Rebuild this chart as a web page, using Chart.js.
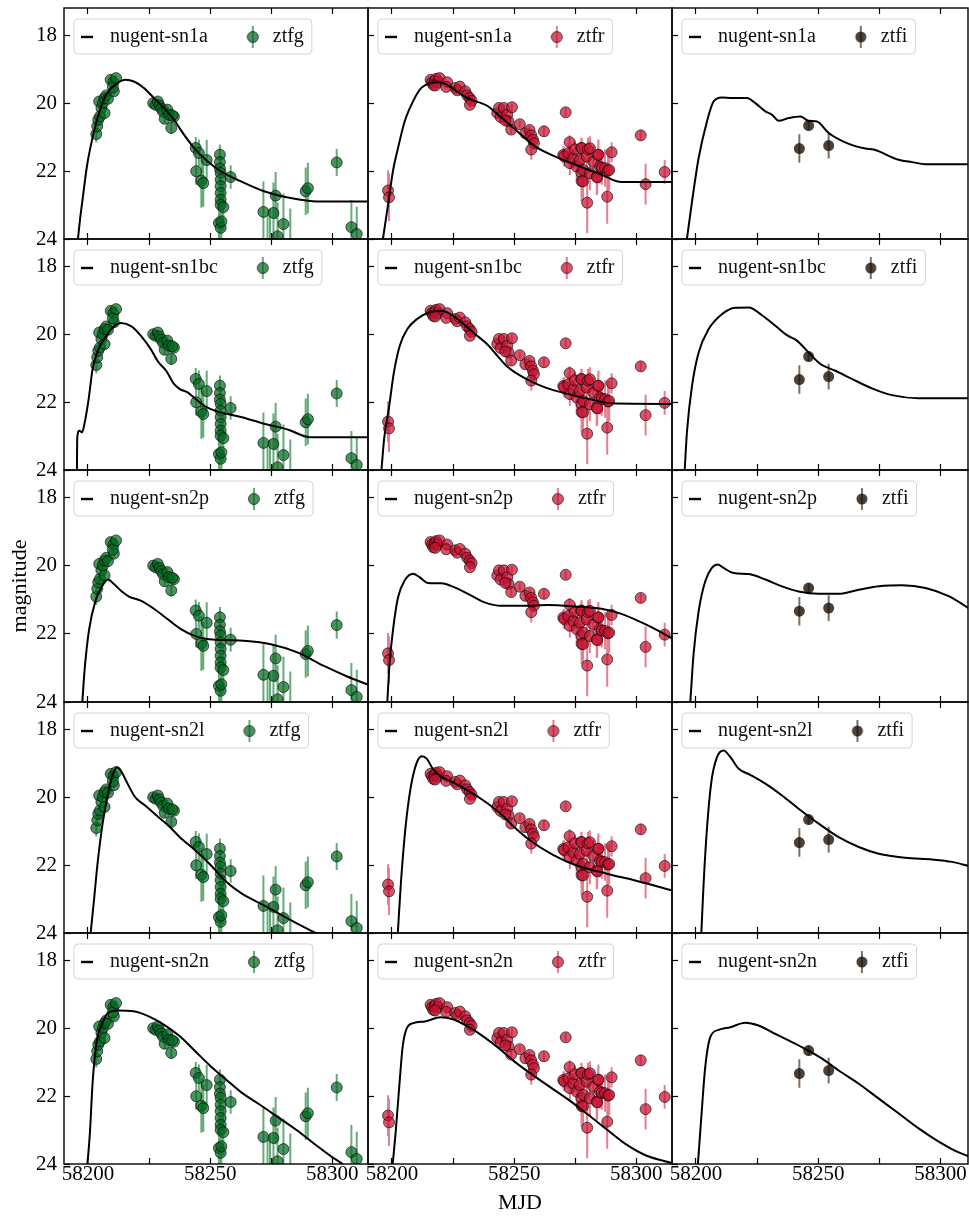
<!DOCTYPE html>
<html lang="en">
<head>
<meta charset="UTF-8">
<title>ZTF light curves vs nugent templates</title>
<script src="https://cdn.jsdelivr.net/npm/chart.js"></script>
<style>
  html, body { margin: 0; padding: 0; background: #fff; overflow: hidden; }
  #wrap { position: relative; width: 969px; height: 1216px; }
  #wrap canvas { position: absolute; }
</style>
</head>
<body>
<div id="wrap"></div>
<script>
// ---------- observed photometry ----------
const gMjd = [58203.4, 58203.8, 58204.2, 58204.6, 58204.9, 58205.5, 58206.1, 58206.8, 58206.8, 58207.5, 58208.2, 58209.3, 58210.4, 58210.6, 58210.2, 58211.5,
  58226.7, 58227.7, 58228.6, 58229.3, 58230.0, 58230.8, 58231.4, 58232.5, 58233.2, 58234.1, 58235.2, 58234.5,
  58244.1, 58244.3, 58245.4, 58246.4, 58247.2, 58248.6,
  58254.0, 58254.0, 58254.0, 58254.3, 58254.3, 58254.3, 58254.3, 58254.3, 58254.3, 58255.4, 58253.6, 58254.3, 58254.6, 58258.4,
  58271.8, 58273.5, 58274.5, 58275.9, 58276.8, 58277.6, 58280.0, 58282.8, 58289.1, 58290.0, 58301.8, 58307.8, 58310.0];
const gMag = [20.90, 20.67, 20.48, 19.94, 20.38, 20.13, 19.99, 20.28, 19.84, 19.76, 19.86, 19.30, 19.37, 19.64, 19.52, 19.25,
  19.99, 20.04, 19.94, 20.06, 20.15, 20.25, 20.45, 20.18, 20.33, 20.72, 20.39, 20.35,
  21.31, 22.00, 21.46, 22.28, 22.35, 21.67,
  21.51, 21.73, 21.92, 22.05, 22.25, 22.44, 22.64, 22.84, 22.99, 23.06, 23.53, 23.67, 23.48, 22.17,
  23.20, 24.30, 24.20, 23.23, 22.72, 23.92, 23.56, 24.40, 22.59, 22.50, 21.74, 23.65, 23.85];
const gErr = [0.25, 0.2, 0.18, 0.12, 0.15, 0.12, 0.12, 0.15, 0.1, 0.1, 0.12, 0.08, 0.08, 0.12, 0.1, 0.08,
  0.08, 0.08, 0.08, 0.1, 0.1, 0.12, 0.15, 0.12, 0.12, 0.18, 0.12, 0.12,
  0.32, 0.4, 0.4, 0.8, 0.7, 0.6,
  0.3, 0.4, 0.5, 0.5, 0.6, 0.7, 0.7, 0.8, 0.8, 0.7, 0.9, 0.9, 0.9, 0.35,
  0.9, 1.0, 1.1, 0.9, 0.7, 1.0, 0.9, 1.3, 0.7, 0.75, 0.4, 0.8, 0.8];

const rMjd = [58198.4, 58198.8,
  58215.8, 58216.4, 58216.9, 58217.5, 58218.1, 58218.8, 58219.5, 58217.7, 58222.6, 58222.2, 58225.9, 58226.7, 58227.8,
  58230.0, 58230.8, 58231.8, 58232.6, 58231.9,
  58243.1, 58243.8, 58244.5, 58245.8, 58247.2, 58247.7, 58249.1, 58248.8, 58246.4, 58252.3,
  58254.6, 58256.3, 58257.0, 58257.7, 58258.1, 58257.0, 58262.2, 58271.1, 58272.7,
  58270.1, 58270.5, 58272.2, 58272.8, 58274.2, 58274.9, 58275.6, 58276.9, 58277.5, 58277.6, 58277.5, 58277.6, 58278.2,
  58278.3, 58279.7, 58279.9, 58280.2, 58281.0, 58281.0, 58282.4, 58283.8, 58284.0, 58284.4, 58284.5, 58285.1, 58285.9,
  58287.2, 58288.1, 58288.4, 58288.9, 58289.9,
  58301.8, 58303.8, 58311.6];
const rMag = [22.57, 22.77,
  19.30, 19.37, 19.45, 19.33, 19.27, 19.37, 19.25, 19.47, 19.37, 19.51, 19.54, 19.61, 19.50,
  19.64, 19.76, 19.84, 19.92, 20.04,
  20.28, 20.13, 20.40, 20.13, 20.33, 20.53, 20.11, 20.77, 20.50, 20.61,
  20.88, 20.78, 20.94, 21.07, 21.17, 21.36, 20.82, 20.26, 21.14,
  21.52, 21.56, 21.47, 21.76, 21.62, 21.35, 21.86, 21.67, 21.31, 21.32, 22.05, 22.29, 22.30,
  21.96, 21.57, 22.93, 21.36, 21.32, 22.06, 21.72, 22.16, 22.18, 21.52, 21.51, 21.86, 21.90,
  21.91, 22.75, 21.98, 21.96, 21.44,
  20.94, 22.38, 22.02];
const rErr = [0.6, 0.7,
  0.05, 0.05, 0.05, 0.05, 0.05, 0.05, 0.05, 0.05, 0.05, 0.05, 0.05, 0.05, 0.05,
  0.06, 0.06, 0.06, 0.07, 0.07,
  0.1, 0.1, 0.1, 0.1, 0.1, 0.1, 0.1, 0.12, 0.1, 0.1,
  0.15, 0.12, 0.15, 0.15, 0.2, 0.3, 0.15, 0.12, 0.2,
  0.25, 0.3, 0.3, 0.35, 0.3, 0.25, 0.4, 0.35, 0.3, 0.3, 0.5, 0.6, 0.55,
  0.45, 0.4, 0.9, 0.35, 0.35, 0.5, 0.45, 0.55, 0.5, 0.4, 0.45, 0.5, 0.5,
  0.55, 0.8, 0.6, 0.6, 0.3,
  0.15, 0.6, 0.35];

const iMjd = [58242.3, 58246.1, 58254.3];
const iMag = [21.33, 20.65, 21.24];
const iErr = [0.42, 0.15, 0.38];

// ---------- template curves (MJD, mag) ----------
const sn1a_g_t = [58195.9, 58196.8, 58197.7, 58199.7, 58202.5, 58205.2, 58207.9, 58212.0, 58215.4, 58218.8, 58222.9, 58227.0, 58231.1, 58235.2, 58239.3, 58243.4, 58248.8, 58254.3, 58261.1, 58272.0, 58282.9, 58293.9, 58315];
const sn1a_g_m = [24.0, 23.4, 22.89, 21.8, 20.82, 20.13, 19.69, 19.4, 19.3, 19.35, 19.54, 19.84, 20.13, 20.48, 20.92, 21.31, 21.7, 22.0, 22.25, 22.59, 22.79, 22.89, 22.89];
const sn1a_r_t = [58196.3, 58198.4, 58200.4, 58202.5, 58205.2, 58208.6, 58212.0, 58215.4, 58219.5, 58223.6, 58228.4, 58232.5, 58236.6, 58239.3, 58243.4, 58247.5, 58252.9, 58258.4, 58266.6, 58274.8, 58285.7, 58293.9, 58315];
const sn1a_r_m = [24.0, 22.99, 22.0, 21.31, 20.53, 19.94, 19.54, 19.4, 19.37, 19.49, 19.74, 19.89, 19.99, 20.08, 20.33, 20.58, 20.92, 21.26, 21.56, 21.8, 22.1, 22.32, 22.32];
const sn1a_i_t = [58196.3, 58198.4, 58201.1, 58204.5, 58207.2, 58210.6, 58214.7, 58220.9, 58224.3, 58228.4, 58231.1, 58233.8, 58237.9, 58242.7, 58246.1, 58249.5, 58254.3, 58261.8, 58269.3, 58272.7, 58282.9, 58288.4, 58293.9, 58312];
const sn1a_i_m = [24.0, 22.89, 21.61, 20.53, 19.94, 19.82, 19.84, 19.84, 19.99, 20.23, 20.33, 20.51, 20.43, 20.38, 20.51, 20.53, 20.87, 21.17, 21.33, 21.36, 21.66, 21.73, 21.79, 21.79];

const sn1bc_g_t = [58195.5, 58195.6, 58196.4, 58197.6, 58198.7, 58200.3, 58201.9, 58204.3, 58207.5, 58210.6, 58213.5, 58217.8, 58221.7, 58225.7, 58228.9, 58232.0, 58235.2, 58237.6, 58240.8, 58244.0, 58248.7, 58253.4, 58263.0, 58272.5, 58282.0, 58290.7, 58315];
const sn1bc_g_m = [24.0, 23.08, 22.84, 22.89, 22.59, 21.9, 21.02, 20.43, 20.04, 19.76, 19.66, 19.76, 20.04, 20.43, 20.82, 21.07, 21.46, 21.61, 21.71, 21.9, 22.15, 22.28, 22.44, 22.64, 22.81, 23.03, 23.03];
const sn1bc_r_t = [58195.7, 58196.8, 58198.9, 58200.8, 58203.2, 58206.3, 58210.3, 58215.1, 58220.6, 58224.6, 58229.3, 58234.1, 58238.9, 58242.0, 58246.8, 58251.5, 58256.3, 58262.6, 58272.2, 58281.7, 58289.6, 58315];
const sn1bc_r_m = [24.0, 23.08, 22.1, 21.12, 20.33, 19.84, 19.54, 19.35, 19.3, 19.43, 19.69, 19.99, 20.28, 20.53, 20.92, 21.17, 21.36, 21.56, 21.76, 21.92, 22.03, 22.05];
const sn1bc_i_t = [58195.4, 58196.3, 58198.4, 58201.1, 58205.2, 58210.6, 58216.1, 58221.6, 58227.0, 58232.5, 58237.2, 58241.3, 58246.1, 58250.9, 58257.0, 58263.8, 58272.0, 58280.2, 58291.1, 58312];
const sn1bc_i_m = [24.0, 22.89, 21.51, 20.53, 19.84, 19.4, 19.21, 19.2, 19.43, 19.74, 20.02, 20.18, 20.53, 20.87, 21.07, 21.31, 21.59, 21.79, 21.88, 21.88];

const sn2p_g_t = [58197.7, 58198.6, 58200.4, 58203.1, 58205.9, 58208.2, 58210.6, 58213.4, 58216.8, 58221.6, 58227.0, 58232.5, 58237.9, 58243.4, 58248.8, 58255.7, 58263.8, 58274.8, 58285.7, 58296.6, 58306.1, 58315];
const sn2p_g_m = [24.0, 23.08, 21.9, 21.02, 20.58, 20.4, 20.53, 20.72, 20.9, 21.02, 21.26, 21.56, 21.85, 22.05, 22.15, 22.18, 22.2, 22.3, 22.54, 22.94, 23.25, 23.5];
const sn2p_r_t = [58198.1, 58199.0, 58200.4, 58202.5, 58205.2, 58208.6, 58211.3, 58214.7, 58220.2, 58225.6, 58231.1, 58237.9, 58244.7, 58254.3, 58263.8, 58274.8, 58285.7, 58293.9, 58302.1, 58308.9, 58315];
const sn2p_r_m = [24.0, 22.89, 21.9, 20.92, 20.43, 20.23, 20.33, 20.5, 20.51, 20.63, 20.82, 21.07, 21.17, 21.17, 21.15, 21.19, 21.26, 21.41, 21.66, 21.9, 22.15];
const sn2p_i_t = [58197.7, 58199.0, 58201.1, 58203.8, 58206.5, 58208.9, 58211.3, 58215.4, 58221.6, 58228.4, 58235.2, 58242.0, 58250.2, 58258.4, 58266.6, 58274.8, 58284.3, 58293.9, 58303.4, 58312];
const sn2p_i_m = [24.0, 22.61, 21.33, 20.45, 20.06, 19.96, 20.06, 20.21, 20.24, 20.4, 20.6, 20.75, 20.82, 20.82, 20.7, 20.6, 20.57, 20.65, 20.89, 21.26];

const sn2l_g_t = [58201.1, 58202.4, 58204.0, 58205.9, 58207.8, 58209.8, 58211.9, 58213.8, 58216.2, 58219.3, 58223.3, 58228.1, 58232.8, 58237.6, 58243.9, 58250.3, 58256.6, 58263.0, 58272.5, 58282.0, 58293.1, 58305];
const sn2l_g_m = [24.0, 23.08, 21.9, 20.82, 20.04, 19.4, 19.11, 19.25, 19.59, 19.99, 20.23, 20.53, 20.82, 21.17, 21.56, 22.0, 22.49, 22.84, 23.2, 23.58, 24.0, 24.45];
const sn2l_r_t = [58202.4, 58203.6, 58205.5, 58207.6, 58210.0, 58212.2, 58214.3, 58216.7, 58219.8, 58224.6, 58231.0, 58237.3, 58243.7, 58250.0, 58256.4, 58265.9, 58275.4, 58288.0, 58300.7, 58315];
const sn2l_r_m = [24.0, 22.59, 20.92, 19.74, 19.0, 18.78, 18.86, 19.15, 19.37, 19.54, 19.79, 20.08, 20.43, 20.87, 21.26, 21.69, 22.0, 22.25, 22.47, 22.75];
const sn2l_i_t = [58202.2, 58203.1, 58204.5, 58206.3, 58208.6, 58211.3, 58214.1, 58217.5, 58222.2, 58228.4, 58235.2, 58242.0, 58250.2, 58258.4, 58266.6, 58274.8, 58285.7, 58296.6, 58304.8, 58312];
const sn2l_i_m = [24.0, 22.59, 20.92, 19.54, 18.81, 18.61, 18.81, 19.15, 19.33, 19.59, 19.94, 20.33, 20.77, 21.17, 21.46, 21.66, 21.78, 21.83, 21.9, 22.03];

const sn2n_g_t = [58199.8, 58200.8, 58201.9, 58203.5, 58205.9, 58208.2, 58212.2, 58218.6, 58224.9, 58231.2, 58237.6, 58243.9, 58250.3, 58256.6, 58263.0, 58269.3, 58277.2, 58285.2, 58293.1, 58299.4, 58304.2, 58310];
const sn2n_g_m = [24.0, 23.08, 21.61, 20.43, 19.84, 19.54, 19.47, 19.49, 19.64, 19.89, 20.23, 20.67, 21.12, 21.51, 21.9, 22.2, 22.59, 22.99, 23.43, 23.77, 24.0, 24.3];
const sn2n_r_t = [58200.3, 58201.5, 58203.1, 58204.4, 58205.8, 58208.7, 58213.5, 58219.8, 58224.6, 58231.0, 58237.3, 58243.7, 58250.0, 58256.4, 58264.3, 58272.2, 58280.2, 58288.1, 58296.0, 58304.0, 58315];
const sn2n_r_m = [24.0, 23.08, 21.61, 20.53, 20.04, 19.84, 19.79, 19.67, 19.72, 19.94, 20.23, 20.58, 20.97, 21.31, 21.71, 22.1, 22.54, 22.99, 23.43, 23.75, 23.98];
const sn2n_i_t = [58200.8, 58202.2, 58203.8, 58205.9, 58209.3, 58214.1, 58220.2, 58225.6, 58231.1, 58237.9, 58244.7, 58251.6, 58258.4, 58266.6, 58274.8, 58283.0, 58291.1, 58299.3, 58306.1, 58312];
const sn2n_i_m = [24.0, 22.61, 21.14, 20.25, 20.04, 19.96, 19.83, 19.91, 20.11, 20.35, 20.6, 20.89, 21.24, 21.63, 22.07, 22.51, 22.95, 23.34, 23.61, 23.79];

// ---------- labels & ticks ----------
const templates = ['nugent-sn1a', 'nugent-sn1bc', 'nugent-sn2p', 'nugent-sn2l', 'nugent-sn2n'];
const bands = ['ztfg', 'ztfr', 'ztfi'];
const xTicks = [58200, 58225, 58250, 58275, 58300];
const xLabelled = [58200, 58250, 58300];
const yTicks = [18, 20, 22, 24];

const curves = [
  [[sn1a_g_t, sn1a_g_m], [sn1a_r_t, sn1a_r_m], [sn1a_i_t, sn1a_i_m]],
  [[sn1bc_g_t, sn1bc_g_m], [sn1bc_r_t, sn1bc_r_m], [sn1bc_i_t, sn1bc_i_m]],
  [[sn2p_g_t, sn2p_g_m], [sn2p_r_t, sn2p_r_m], [sn2p_i_t, sn2p_i_m]],
  [[sn2l_g_t, sn2l_g_m], [sn2l_r_t, sn2l_r_m], [sn2l_i_t, sn2l_i_m]],
  [[sn2n_g_t, sn2n_g_m], [sn2n_r_t, sn2n_r_m], [sn2n_i_t, sn2n_i_m]]
];
const obs = [[gMjd, gMag, gErr], [rMjd, rMag, rErr], [iMjd, iMag, iErr]];

// ---------- styling / geometry ----------
const FONT = 'Liberation Serif';
const bandStyle = [
  { fill: 'rgba(5,105,35,0.72)', edge: 'rgba(0,0,0,0.75)', bar: 'rgba(10,120,40,0.62)' },
  { fill: 'rgba(200,20,50,0.72)', edge: 'rgba(0,0,0,0.75)', bar: 'rgba(210,40,70,0.6)' },
  { fill: 'rgba(30,18,8,0.8)', edge: 'rgba(30,18,8,0)', bar: 'rgba(30,18,8,0.6)' }
];
const colLeft = [64, 368, 672], colW = [304, 304, 296];
const rowTop = [8, 239, 470, 702, 933], rowH = [231, 231, 232, 231, 231];
const xMin = 58190.2, xMax = [58314.6, 58314.6, 58311.3];
const yMin = 17.18, yMax = 24;

function dashSymbol() {
  const cv = document.createElement('canvas');
  cv.width = 20; cv.height = 20;
  const g = cv.getContext('2d');
  g.strokeStyle = '#000'; g.lineWidth = 2.4;
  g.beginPath(); g.moveTo(1, 10); g.lineTo(13, 10); g.stroke();
  return cv;
}
function markerSymbol(st) {
  const cv = document.createElement('canvas');
  cv.width = 20; cv.height = 24;
  const g = cv.getContext('2d');
  g.strokeStyle = st.bar; g.lineWidth = 2;
  g.beginPath(); g.moveTo(10, 1); g.lineTo(10, 23); g.stroke();
  g.beginPath(); g.arc(10, 12, 5.5, 0, Math.PI * 2);
  g.fillStyle = st.fill; g.fill();
  g.lineWidth = 0.8; g.strokeStyle = st.edge; g.stroke();
  return cv;
}
const dashImg = dashSymbol();
const markerImgs = bandStyle.map(markerSymbol);

function errSegments(t, m, e) {
  const out = [];
  t.forEach((x, i) => { out.push({ x, y: m[i] - e[i] }, { x, y: m[i] + e[i] }, { x, y: null }); });
  return out;
}

// legend drawn inside the axes, matplotlib style
const legendInside = {
  id: 'legendInside',
  afterInit(chart) {
    const lg = chart.legend;
    const fit = lg.fit.bind(lg);
    lg.fit = function () { fit(); this._fullH = this.height; this.height = 0; };
  },
  afterLayout(chart) {
    const lg = chart.legend, ca = chart.chartArea, p = lg.options.labels.padding;
    lg.height = lg._fullH;
    lg.left = ca.left + 16 - p;
    lg.top = ca.top + 29 - p - 10;
    lg.right = lg.left + lg.width;
    lg.bottom = lg.top + lg.height;
  },
  beforeDraw(chart) {
    const lg = chart.legend, ca = chart.chartArea, ctx = chart.ctx;
    const x = ca.left + 10, y = ca.top + 11, h = 35;
    const w = lg.left + lg.lineWidths[0] + 8 - x, rr = 4;
    ctx.save();
    ctx.beginPath();
    ctx.moveTo(x + rr, y); ctx.lineTo(x + w - rr, y); ctx.arcTo(x + w, y, x + w, y + rr, rr);
    ctx.lineTo(x + w, y + h - rr); ctx.arcTo(x + w, y + h, x + w - rr, y + h, rr);
    ctx.lineTo(x + rr, y + h); ctx.arcTo(x, y + h, x, y + h - rr, rr);
    ctx.lineTo(x, y + rr); ctx.arcTo(x, y, x + rr, y, rr);
    ctx.closePath();
    ctx.fillStyle = 'rgba(255,255,255,0.8)'; ctx.fill();
    ctx.strokeStyle = '#d4d4d4'; ctx.lineWidth = 1; ctx.stroke();
    ctx.restore();
  }
};

const frame = {
  id: 'frame',
  afterDraw(chart) {
    const { left, top, right, bottom } = chart.chartArea, ctx = chart.ctx;
    ctx.save();
    ctx.strokeStyle = '#000'; ctx.lineWidth = 1.4;
    ctx.strokeRect(left, top, right - left, bottom - top);
    ctx.restore();
  }
};

// keep every panel the same size whatever labels it carries
function noEdgePadding(s) {
  s.paddingTop = 0; s.paddingBottom = 0; s.paddingLeft = 0; s.paddingRight = 0;
}

const wrap = document.getElementById('wrap');
const defaultLabels = Chart.defaults.plugins.legend.labels.generateLabels;

for (let r = 0; r < 5; r++) {
  for (let c = 0; c < 3; c++) {
    // margins round each panel: room for tick labels that stick out
    const L = c === 0 ? 64 : 22, T = 3, R = c === 2 ? 1 : 3, B = r === 4 ? 52 : 14;
    const cv = document.createElement('canvas');
    cv.width = L + colW[c] + R; cv.height = T + rowH[r] + B;
    cv.style.left = (colLeft[c] - L) + 'px';
    cv.style.top = (rowTop[r] - T) + 'px';
    cv.style.width = cv.width + 'px'; cv.style.height = cv.height + 'px';
    wrap.appendChild(cv);

    const [ct, cm] = curves[r][c];
    const [ot, om, oe] = obs[c];
    const st = bandStyle[c];
    const tickGrid = { drawOnChartArea: false, drawTicks: true, tickLength: -6, tickColor: '#000', tickWidth: 1.2 };
    const xTickSetter = s => { s.ticks = xTicks.map(v => ({ value: v })); };

    new Chart(cv, {
      type: 'scatter',
      data: {
        datasets: [
          {
            type: 'line', label: templates[r],
            data: ct.map((x, i) => ({ x, y: cm[i] })),
            borderColor: '#000', borderWidth: 2, pointRadius: 0,
            cubicInterpolationMode: 'monotone', fill: false, clip: 0
          },
          {
            label: bands[c],
            data: ot.map((x, i) => ({ x, y: om[i] })),
            pointRadius: 5.5, pointBackgroundColor: st.fill,
            pointBorderColor: st.edge, pointBorderWidth: 0.8, clip: 0
          },
          {
            type: 'line', label: '',
            data: errSegments(ot, om, oe),
            borderColor: st.bar, borderWidth: 2, pointRadius: 0,
            spanGaps: false, tension: 0, fill: false, clip: 0
          }
        ]
      },
      options: {
        responsive: false, animation: false, devicePixelRatio: 1, events: [],
        layout: { padding: { top: T, right: R, left: 0, bottom: 0 }, autoPadding: false },
        scales: {
          x: {
            type: 'linear', position: 'bottom', min: xMin, max: xMax[c],
            afterBuildTicks: xTickSetter,
            afterFit: s => { s.height = B; noEdgePadding(s); },
            grid: tickGrid, border: { display: false },
            ticks: {
              display: r === 4, autoSkip: false, maxRotation: 0, padding: 4, color: '#000',
              font: { family: FONT, size: 21 },
              callback: v => (xLabelled.includes(v) ? String(v) : '')
            },
            title: {
              display: r === 4 && c === 1, text: 'MJD', color: '#000',
              font: { family: FONT, size: 22 }, padding: { top: 0, bottom: 0 }
            }
          },
          xTop: {
            type: 'linear', axis: 'x', position: 'top', min: xMin, max: xMax[c],
            afterBuildTicks: xTickSetter,
            afterFit: s => { s.height = 0; noEdgePadding(s); },
            grid: tickGrid, border: { display: false },
            ticks: { display: false }
          },
          y: {
            type: 'linear', reverse: true, min: yMin, max: yMax,
            afterBuildTicks: s => { s.ticks = yTicks.map(v => ({ value: v })); },
            afterFit: s => { s.width = L; noEdgePadding(s); },
            grid: tickGrid, border: { display: false },
            ticks: {
              display: c === 0, autoSkip: false, padding: 13, color: '#000',
              font: { family: FONT, size: 21 }, callback: v => String(v)
            },
            title: {
              display: c === 0 && r === 2, text: 'magnitude', color: '#000',
              font: { family: FONT, size: 22 }, padding: { top: 7, bottom: 0 }
            }
          }
        },
        plugins: {
          tooltip: { enabled: false },
          legend: {
            position: 'top', align: 'start',
            labels: {
              usePointStyle: true, pointStyleWidth: 20, padding: 35, color: '#111',
              font: { family: FONT, size: 20 },
              generateLabels: chart => defaultLabels(chart).map(it => {
                it.pointStyle = it.datasetIndex === 0 ? dashImg : markerImgs[c];
                return it;
              }),
              filter: it => it.datasetIndex !== 2
            }
          }
        }
      },
      plugins: [legendInside, frame]
    });
  }
}
</script>
</body>
</html>
